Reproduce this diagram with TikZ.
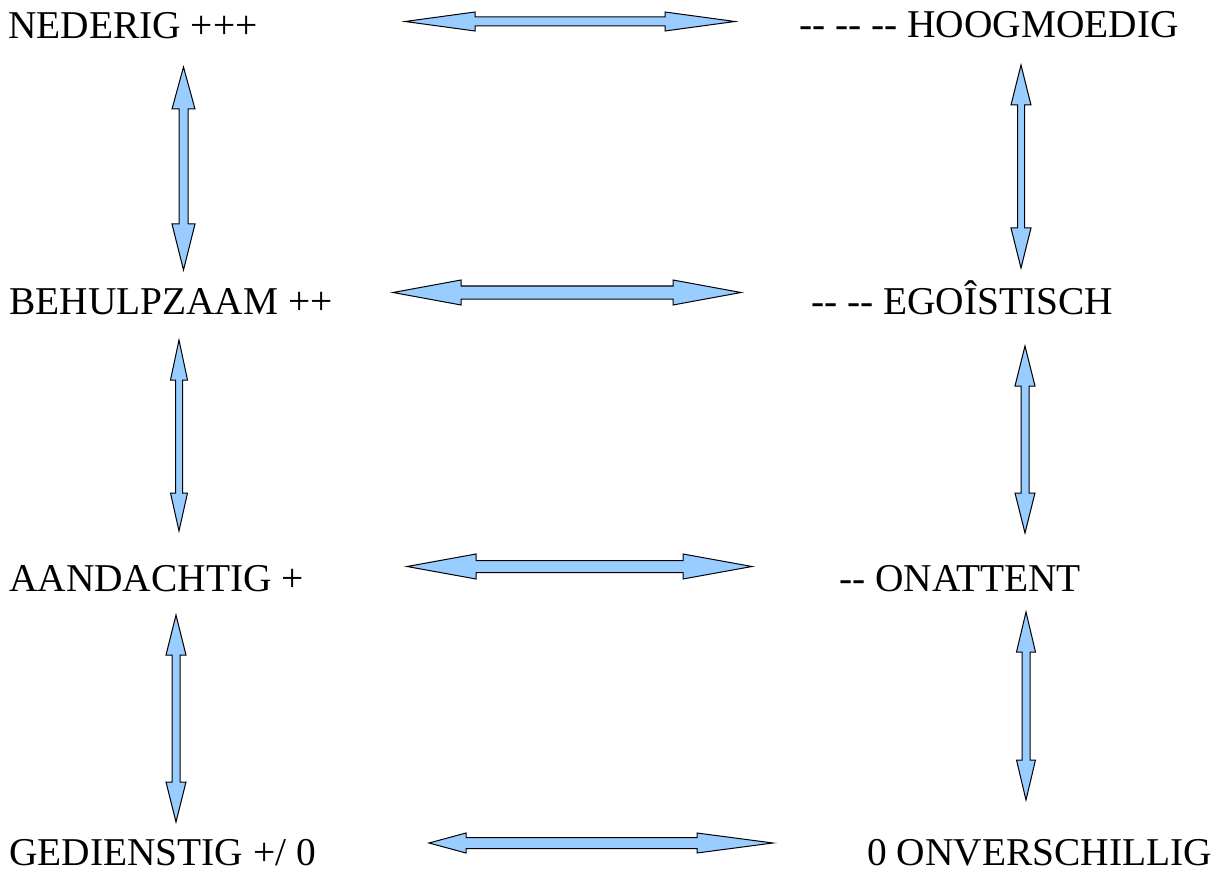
\documentclass[tikz,border=0pt]{standalone}
\usepackage{fontspec}
\setmainfont{Liberation Serif}
\usetikzlibrary{calc}
\definecolor{arrowblue}{RGB}{153,204,255}
\tikzset{
  lbl/.style={inner sep=0pt, anchor=base west, font=\fontsize{39.4}{42}\selectfont},
  barrow/.style={draw=black, fill=arrowblue, line width=1pt, line join=miter}
}
% horizontal block double arrow: #1 left tip, #2 right tip, #3 shaft half, #4 head half, #5 left head len, #6 right head len
\newcommand\HArrow[6]{%
  \draw[barrow] let \p1=(#1), \p2=(#2) in
    (\p1) -- (\x1+#5pt,\y1+#4pt) -- (\x1+#5pt,\y1+#3pt) -- (\x2-#6pt,\y1+#3pt)
    -- (\x2-#6pt,\y1+#4pt) -- (\x2,\y1) -- (\x2-#6pt,\y1-#4pt) -- (\x2-#6pt,\y1-#3pt)
    -- (\x1+#5pt,\y1-#3pt) -- (\x1+#5pt,\y1-#4pt) -- cycle;}
% vertical block double arrow: #1 top tip, #2 bottom tip
\newcommand\VArrow[6]{%
  \draw[barrow] let \p1=(#1), \p2=(#2) in
    (\p1) -- (\x1+#4pt,\y1-#5pt) -- (\x1+#3pt,\y1-#5pt) -- (\x1+#3pt,\y2+#6pt)
    -- (\x1+#4pt,\y2+#6pt) -- (\x1,\y2) -- (\x1-#4pt,\y2+#6pt) -- (\x1-#3pt,\y2+#6pt)
    -- (\x1-#3pt,\y1-#5pt) -- (\x1-#4pt,\y1-#5pt) -- cycle;}
\begin{document}
\begin{tikzpicture}[x=1pt,y=-1pt]
\useasboundingbox (0,0) rectangle (1224,869);
% labels
\node[lbl] (l1) at (8,39) {NEDERIG +++};
\node[lbl] (r1) at (799,38) {-{}- -{}- -{}- HOOGMOEDIG};
\node[lbl] (l2) at (9,314) {BEHULPZAAM ++};
\node[lbl] (r2) at (811,314) {-{}- -{}- EGOÎSTISCH};
\node[lbl] (l3) at (9,591) {AANDACHTIG +};
\node[lbl] (r3) at (839,591) {-{}- ONATTENT};
\node[lbl] (l4) at (9,865) {GEDIENSTIG +/ 0};
\node[lbl] (r4) at (867,865) {0 ONVERSCHILLIG};
% arrow end points
\coordinate (h1a) at (405,21.5);  \coordinate (h1b) at (735,21.5);
\coordinate (h2a) at (393,292.5); \coordinate (h2b) at (741,292.5);
\coordinate (h3a) at (407,566.5); \coordinate (h3b) at (752,566.5);
\coordinate (h4a) at (429,843);   \coordinate (h4b) at (773,843);
\coordinate (va1) at (183.5,67);  \coordinate (vb1) at (183.5,270);
\coordinate (va2) at (179,340);   \coordinate (vb2) at (179,531);
\coordinate (va3) at (176,615);   \coordinate (vb3) at (176,822);
\coordinate (wa1) at (1021,65);   \coordinate (wb1) at (1021,268);
\coordinate (wa2) at (1025,346);  \coordinate (wb2) at (1025,533);
\coordinate (wa3) at (1026,612);  \coordinate (wb3) at (1026,800);
% horizontal arrows
\HArrow{h1a}{h1b}{4.5}{9.5}{70}{70}
\HArrow{h2a}{h2b}{6.5}{12.5}{68}{68}
\HArrow{h3a}{h3b}{6}{12.5}{69}{69}
\HArrow{h4a}{h4b}{5.5}{10}{37}{76}
% vertical arrows
\VArrow{va1}{vb1}{4.5}{11.5}{42}{46}
\VArrow{va2}{vb2}{3.5}{8.5}{40}{38}
\VArrow{va3}{vb3}{4}{10}{40}{40}
\VArrow{wa1}{wb1}{3.5}{10}{40}{40}
\VArrow{wa2}{wb2}{4}{10}{40}{40}
\VArrow{wa3}{wb3}{4}{9.5}{40}{40}
\end{tikzpicture}
\end{document}
